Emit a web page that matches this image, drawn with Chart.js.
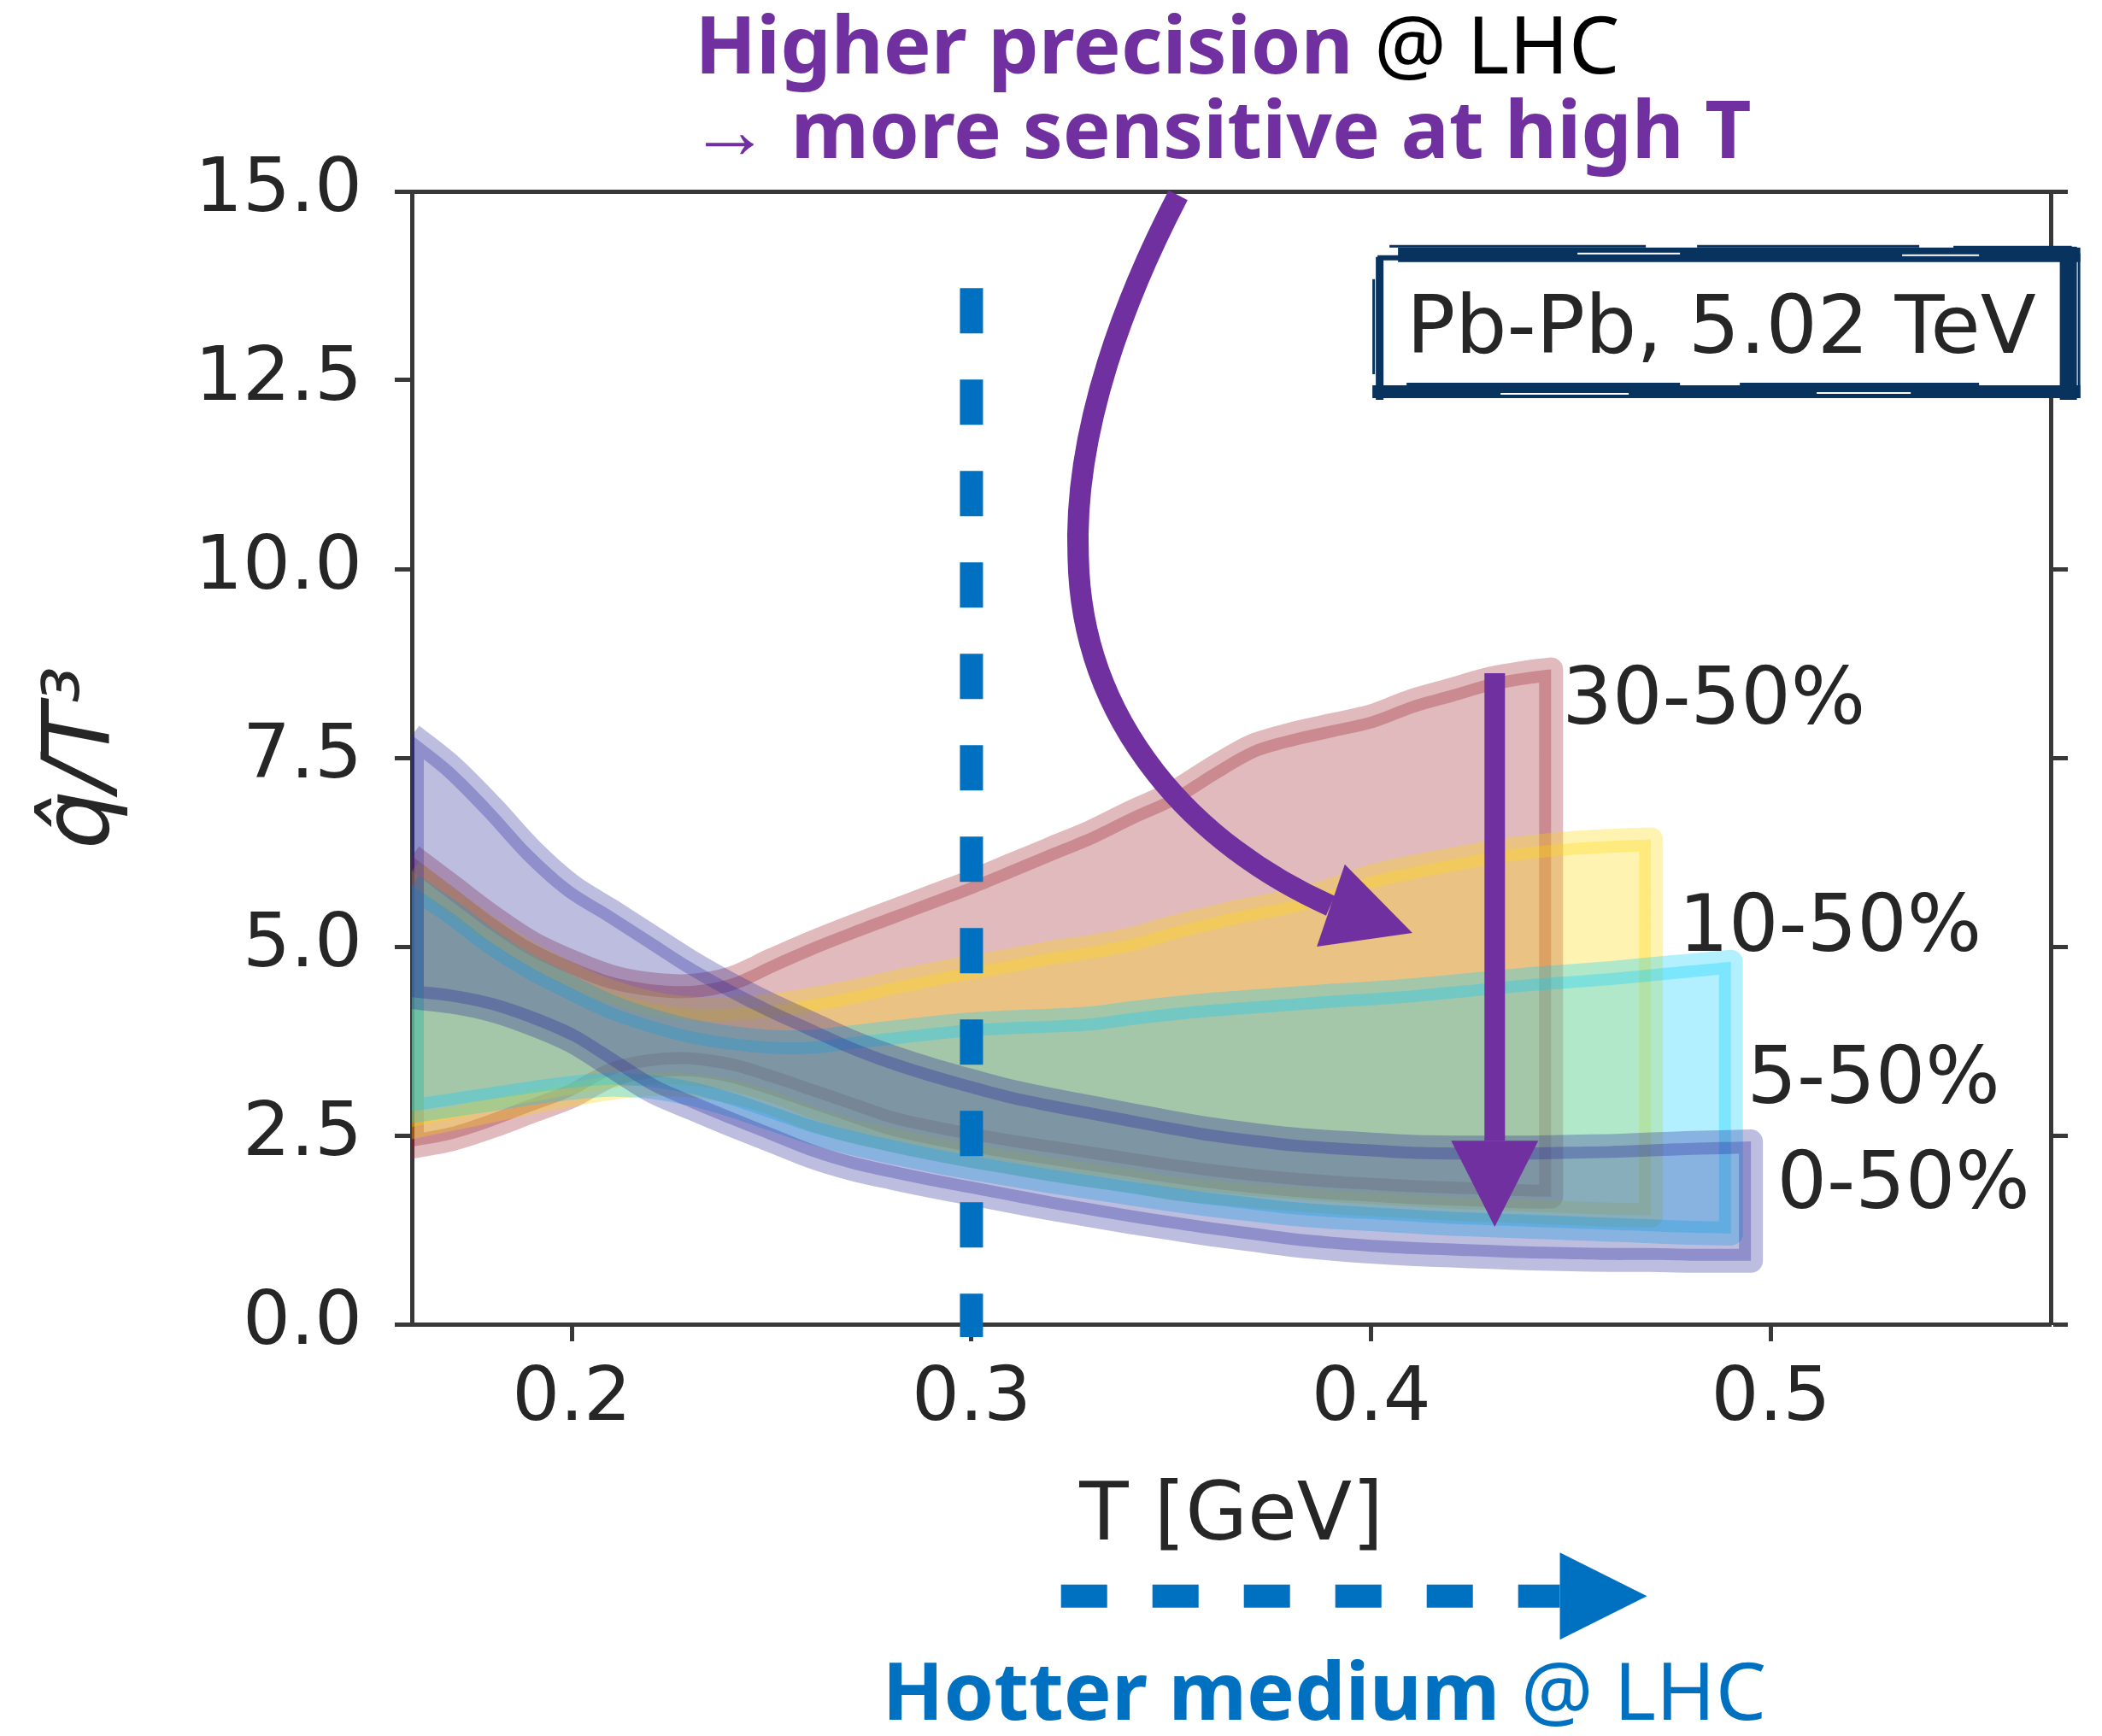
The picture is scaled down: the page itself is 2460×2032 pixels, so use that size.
<!DOCTYPE html>
<html>
<head>
<meta charset="utf-8">
<script src="https://cdn.jsdelivr.net/npm/chart.js@4.4.1/dist/chart.umd.min.js"></script>
<style>
  html, body { margin: 0; padding: 0; background: #fff; }
  #wrap { width: 2460px; height: 2032px; position: relative; }
</style>
</head>
<body>
<div id="wrap"><canvas id="chart"></canvas></div>
<script>
// axis ticks
const xTicks = [0.2, 0.3, 0.4, 0.5];
const yTicks = [0, 2.5, 5, 7.5, 10, 12.5, 15];

// centrality classes
const classes = ['0-50%', '5-50%', '10-50%', '30-50%'];

// qhat/T^3 bands (upper / lower edge vs T in GeV)
const T_0_50 = [0.16, 0.17, 0.18, 0.19, 0.20, 0.21, 0.22, 0.23, 0.24, 0.25, 0.26, 0.27, 0.28, 0.29, 0.30, 0.31, 0.32, 0.33, 0.34, 0.35, 0.36, 0.37, 0.38, 0.39, 0.40, 0.41, 0.42, 0.43, 0.44, 0.45, 0.46, 0.47, 0.48, 0.495];
const up_0_50 = [7.80, 7.38, 6.85, 6.27, 5.80, 5.47, 5.13, 4.79, 4.49, 4.22, 3.98, 3.74, 3.54, 3.37, 3.22, 3.08, 2.97, 2.87, 2.77, 2.67, 2.58, 2.51, 2.45, 2.41, 2.38, 2.35, 2.34, 2.34, 2.34, 2.35, 2.36, 2.38, 2.40, 2.42];
const lo_0_50 = [4.33, 4.27, 4.16, 3.98, 3.75, 3.42, 3.09, 2.86, 2.64, 2.43, 2.22, 2.06, 1.94, 1.83, 1.73, 1.63, 1.53, 1.44, 1.35, 1.27, 1.19, 1.12, 1.05, 1.00, 0.96, 0.93, 0.91, 0.89, 0.87, 0.86, 0.85, 0.85, 0.84, 0.84];

const T_5_50 = [0.16, 0.17, 0.18, 0.19, 0.20, 0.21, 0.22, 0.23, 0.24, 0.25, 0.26, 0.27, 0.28, 0.29, 0.30, 0.31, 0.32, 0.33, 0.34, 0.35, 0.36, 0.37, 0.38, 0.39, 0.40, 0.41, 0.42, 0.43, 0.44, 0.45, 0.46, 0.47, 0.48, 0.49];
const up_5_50 = [5.81, 5.45, 5.05, 4.72, 4.45, 4.20, 4.02, 3.88, 3.79, 3.74, 3.74, 3.80, 3.86, 3.92, 3.97, 4.00, 4.02, 4.05, 4.12, 4.18, 4.23, 4.27, 4.31, 4.35, 4.38, 4.42, 4.47, 4.52, 4.57, 4.61, 4.65, 4.70, 4.75, 4.80];
const lo_5_50 = [2.82, 2.90, 2.98, 3.06, 3.13, 3.17, 3.14, 3.05, 2.90, 2.72, 2.54, 2.40, 2.28, 2.17, 2.07, 1.98, 1.89, 1.81, 1.73, 1.65, 1.58, 1.52, 1.46, 1.42, 1.39, 1.36, 1.33, 1.31, 1.29, 1.27, 1.25, 1.23, 1.21, 1.20];

const T_10_50 = [0.16, 0.17, 0.18, 0.19, 0.20, 0.21, 0.22, 0.23, 0.24, 0.25, 0.26, 0.27, 0.28, 0.29, 0.30, 0.31, 0.32, 0.33, 0.34, 0.35, 0.36, 0.37, 0.38, 0.39, 0.40, 0.41, 0.42, 0.43, 0.44, 0.45, 0.46, 0.47];
const up_10_50 = [6.00, 5.60, 5.22, 4.90, 4.62, 4.40, 4.25, 4.18, 4.18, 4.22, 4.30, 4.40, 4.52, 4.63, 4.73, 4.82, 4.92, 5.00, 5.10, 5.25, 5.38, 5.50, 5.60, 5.75, 5.93, 6.05, 6.15, 6.25, 6.32, 6.37, 6.40, 6.42];
const lo_10_50 = [2.61, 2.72, 2.83, 2.94, 3.04, 3.13, 3.18, 3.16, 3.08, 2.93, 2.72, 2.56, 2.44, 2.33, 2.23, 2.14, 2.05, 1.97, 1.90, 1.80, 1.75, 1.70, 1.66, 1.62, 1.59, 1.56, 1.53, 1.51, 1.49, 1.47, 1.45, 1.44];

const T_30_50 = [0.16, 0.17, 0.18, 0.19, 0.20, 0.21, 0.22, 0.23, 0.24, 0.25, 0.26, 0.27, 0.28, 0.29, 0.30, 0.31, 0.32, 0.33, 0.34, 0.35, 0.36, 0.37, 0.38, 0.39, 0.40, 0.41, 0.42, 0.43, 0.44, 0.445];
const up_30_50 = [6.20, 5.80, 5.40, 5.05, 4.80, 4.60, 4.50, 4.48, 4.58, 4.82, 5.05, 5.26, 5.46, 5.66, 5.86, 6.08, 6.30, 6.52, 6.78, 7.02, 7.35, 7.65, 7.81, 7.93, 8.05, 8.25, 8.40, 8.55, 8.64, 8.67];
const lo_30_50 = [2.35, 2.45, 2.62, 2.82, 3.02, 3.30, 3.42, 3.44, 3.36, 3.20, 3.02, 2.84, 2.66, 2.54, 2.44, 2.35, 2.27, 2.19, 2.11, 2.03, 1.96, 1.90, 1.85, 1.81, 1.78, 1.75, 1.73, 1.71, 1.69, 1.69];

const bandRGB = {
  '0-50%': '35,35,152',
  '5-50%': '0,205,255',
  '10-50%': '255,215,0',
  '30-50%': '152,28,38'
};

// closed outline: upper edge left->right, lower edge right->left.
// corner points are doubled so the smoothing keeps the band ends square
function band(t, up, lo) {
  const n = t.length;
  const pts = t.map((v, i) => ({x: v, y: up[i]}));
  pts.push({x: t[n - 1], y: up[n - 1]});
  pts.push({x: t[n - 1], y: lo[n - 1]});
  for (let i = n - 1; i >= 0; i--) pts.push({x: t[i], y: lo[i]});
  pts.push({x: t[0], y: lo[0]});
  pts.push({x: t[0], y: up[0]});
  return pts;
}

const bands = [
  band(T_0_50, up_0_50, lo_0_50),
  band(T_5_50, up_5_50, lo_5_50),
  band(T_10_50, up_10_50, lo_10_50),
  band(T_30_50, up_30_50, lo_30_50)
];

const datasets = classes.map((c, i) => ({
  label: c,
  data: bands[i],
  backgroundColor: `rgba(${bandRGB[c]},0.3)`,
  borderColor: `rgba(${bandRGB[c]},0.3)`,
  borderWidth: 28,
  borderJoinStyle: 'round',
  fill: 'shape',
  pointRadius: 0,
  tension: 0.3,
  clip: 0,
  order: i + 1
}));

const axisColor = '#383838';
const textColor = '#262626';

function tri(ctx, a, b, c) {
  ctx.beginPath();
  ctx.moveTo(a[0], a[1]); ctx.lineTo(b[0], b[1]); ctx.lineTo(c[0], c[1]);
  ctx.closePath();
  ctx.fill();
}

const overlay = {
  id: 'overlay',
  afterDraw(chart) {
    const {ctx} = chart;
    const X = v => chart.scales.x.getPixelForValue(v);
    const Y = v => chart.scales.y.getPixelForValue(v);
    const purple = '#7030A0';
    const blue = '#0070C0';
    ctx.save();

    // dashed marker at T = 0.3 GeV
    ctx.strokeStyle = blue;
    ctx.lineWidth = 27;
    ctx.setLineDash([53, 54]);
    ctx.beginPath();
    ctx.moveTo(X(0.3), Y(13.72));
    ctx.lineTo(X(0.3), Y(-0.17));
    ctx.stroke();
    ctx.setLineDash([]);

    // curved purple arrow
    ctx.strokeStyle = purple;
    ctx.fillStyle = purple;
    ctx.lineWidth = 25;
    ctx.beginPath();
    ctx.moveTo(X(0.3517), Y(14.95));
    ctx.bezierCurveTo(X(0.3393), Y(13.69), X(0.3254), Y(11.88), X(0.3267), Y(10.16));
    ctx.bezierCurveTo(X(0.3275), Y(7.92), X(0.3564), Y(6.33), X(0.3898), Y(5.54));
    ctx.stroke();
    tri(ctx, [X(0.3934), Y(6.09)], [X(0.4103), Y(5.18)], [X(0.3864), Y(5.0)]);

    // straight purple arrow
    const ax = X(0.4309);
    ctx.lineWidth = 24;
    ctx.beginPath();
    ctx.moveTo(ax, Y(8.62));
    ctx.lineTo(ax, Y(2.43));
    ctx.stroke();
    tri(ctx, [ax - 51, Y(2.43)], [ax + 51, Y(2.43)], [ax, Y(1.29)]);

    // sketchy box
    const bl = X(0.4003), br = X(0.5774), bt = Y(14.29), bb = Y(12.24);
    const bw = br - bl, bh = bb - bt;
    ctx.fillStyle = '#fff';
    ctx.fillRect(bl + 8, bt + 12, bw - 26, bh - 24);
    ctx.fillStyle = '#08335f';
    ctx.fillRect(bl + 30, bt + 3, bw - 30, 17);
    ctx.fillRect(bl + 6, bt + 12, 150, 6);
    ctx.fillRect(bl + 20, bt, 300, 3);
    ctx.fillRect(bl + 380, bt, 260, 3);
    ctx.fillRect(bl + 680, bt + 1, bw - 690, 3);
    ctx.fillStyle = '#ffffff';
    ctx.fillRect(bl + 240, bt + 9, 120, 2);
    ctx.fillRect(bl + 620, bt + 11, 90, 2);
    ctx.fillStyle = '#08335f';
    ctx.fillRect(bl + 4, bt + 14, 9, bh - 14);
    ctx.fillRect(bl, bt + 40, 3, bh - 70);
    ctx.fillRect(bl, bb - 17, bw, 15);
    ctx.fillRect(bl + 40, bb - 20, 320, 3);
    ctx.fillRect(bl + 430, bb - 20, 280, 3);
    ctx.fillStyle = '#ffffff';
    ctx.fillRect(bl + 150, bb - 8, 150, 2);
    ctx.fillRect(bl + 520, bb - 9, 110, 2);
    ctx.fillStyle = '#08335f';
    ctx.fillRect(br - 24, bt + 2, 20, bh - 2);
    ctx.fillRect(br - 3, bt + 10, 3, bh - 12);

    ctx.textAlign = 'left';
    ctx.textBaseline = 'alphabetic';
    ctx.fillStyle = textColor;
    ctx.font = '95px "DejaVu Sans"';
    ctx.fillText('Pb-Pb, 5.02 TeV', X(0.4088), Y(12.86));

    // class labels
    const labelPos = {'0-50%': [0.5015, 1.54], '5-50%': [0.494, 2.93], '10-50%': [0.4769, 4.94], '30-50%': [0.4478, 7.95]};
    ctx.font = '92px "DejaVu Sans"';
    classes.forEach(c => ctx.fillText(c, X(labelPos[c][0]), Y(labelPos[c][1])));

    // top annotation
    const bold = 'bold 94px "Noto Sans"';
    const reg = '94px "Noto Sans"';
    let tx = X(0.2308);
    ctx.font = bold; ctx.fillStyle = purple;
    const s1 = 'Higher precision';
    ctx.fillText(s1, tx, Y(16.56));
    const w1 = ctx.measureText(s1 + ' ').width;
    ctx.font = reg; ctx.fillStyle = '#000';
    ctx.fillText('@ LHC', tx + w1, Y(16.56));
    ctx.font = bold; ctx.fillStyle = purple;
    ctx.fillText('\u2192 more sensitive at high T', X(0.2295), Y(15.44));

    // bottom annotation
    ctx.strokeStyle = blue;
    ctx.fillStyle = blue;
    ctx.lineWidth = 27;
    ctx.setLineDash([54, 53]);
    const ay = Y(-3.6);
    ctx.beginPath();
    ctx.moveTo(X(0.3224), ay);
    ctx.lineTo(X(0.4472), ay);
    ctx.stroke();
    ctx.setLineDash([]);
    tri(ctx, [X(0.4472), ay - 51], [X(0.4690), ay], [X(0.4472), ay + 51]);

    tx = X(0.2777);
    ctx.font = bold;
    const s2 = 'Hotter medium';
    ctx.fillText(s2, tx, Y(-5.24));
    const w2 = ctx.measureText(s2 + ' ').width;
    ctx.font = reg;
    ctx.fillText('@ LHC', tx + w2, Y(-5.24));

    ctx.restore();
  }
};

Chart.defaults.font.family = 'DejaVu Sans';
Chart.defaults.color = textColor;

new Chart(document.getElementById('chart'), {
  type: 'line',
  data: {datasets},
  options: {
    responsive: true,
    maintainAspectRatio: false,
    devicePixelRatio: 1,
    animation: false,
    layout: {padding: {top: 224, left: 0, right: 0, bottom: 0}},
    plugins: {
      legend: {display: false},
      tooltip: {enabled: false}
    },
    scales: {
      x: {
        type: 'linear',
        position: 'bottom',
        min: 0.16,
        max: 0.57,
        afterBuildTicks: s => { s.ticks = xTicks.map(v => ({value: v})); },
        afterFit: s => { s.height = 482; },
        ticks: {font: {size: 88}, color: textColor, padding: 16, maxRotation: 0, autoSkip: false,
                callback: v => v.toFixed(1)},
        grid: {drawOnChartArea: false, tickLength: 20, tickWidth: 5, tickColor: axisColor},
        border: {display: true, width: 5, color: axisColor},
        title: {display: true, text: 'T [GeV]', font: {size: 94}, color: textColor, padding: {top: 0, bottom: 198}}
      },
      xTop: {
        type: 'linear',
        position: 'top',
        min: 0.16,
        max: 0.57,
        afterFit: s => { s.height = 0; },
        ticks: {display: false},
        grid: {drawOnChartArea: false, drawTicks: false},
        border: {display: true, width: 5, color: axisColor}
      },
      y: {
        type: 'linear',
        position: 'left',
        min: 0,
        max: 15,
        afterBuildTicks: s => { s.ticks = yTicks.map(v => ({value: v})); },
        afterFit: s => { s.width = 482; },
        ticks: {font: {size: 88}, color: textColor, padding: 38, autoSkip: false,
                callback: v => v.toFixed(1)},
        grid: {drawOnChartArea: false, tickLength: 20, tickWidth: 5, tickColor: axisColor},
        border: {display: true, width: 5, color: axisColor},
        title: {display: true, text: 'q\u0302/T\u00B3', font: {size: 108, style: 'italic'}, color: textColor, padding: {top: 34, bottom: 0}}
      },
      yRight: {
        type: 'linear',
        position: 'right',
        min: 0,
        max: 15,
        afterBuildTicks: s => { s.ticks = yTicks.map(v => ({value: v})); },
        afterFit: s => { s.width = 60; },
        ticks: {display: false},
        grid: {drawOnChartArea: false, tickLength: 20, tickWidth: 5, tickColor: axisColor},
        border: {display: true, width: 5, color: axisColor}
      }
    }
  },
  plugins: [overlay]
});
</script>
</body>
</html>
